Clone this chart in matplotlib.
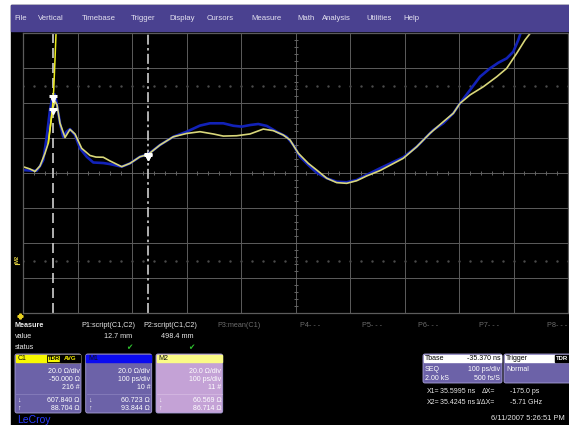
import matplotlib

matplotlib.use("Agg")
import matplotlib.pyplot as plt
import numpy as np
from matplotlib.patches import FancyBboxPatch, Rectangle

plt.rcParams["font.family"] = ["Liberation Sans", "DejaVu Sans"]

# Timebase 100 ps/div over 10 divisions, vertical 20 ohm/div over 8 divisions
T_LEFT = 35.370  # ns
T_DIV = 0.100
OHM_TOP = 130.0
OHM_DIV = 20.0

# M1 (blue) impedance profile, ns / ohm
m1_t = [35.3700, 35.3828, 35.3951, 35.4012, 35.4072, 35.4135, 35.4195, 35.4245,
        35.4278, 35.4318, 35.4379, 35.4439, 35.4502, 35.4562, 35.4654, 35.4746,
        35.4869, 35.4990, 35.5173, 35.5296, 35.5511, 35.5663, 35.5847, 35.5995,
        35.6214, 35.6458, 35.6704, 35.6948, 35.7131, 35.7375, 35.7559, 35.7713,
        35.7865, 35.8017, 35.8172, 35.8355, 35.8539, 35.8660, 35.8783, 35.8935,
        35.9089, 35.9273, 35.9456, 35.9639, 35.9823, 36.0006, 36.0251, 36.0678,
        36.0924, 36.1228, 36.1412, 36.1595, 36.1718, 36.1902, 36.2085, 36.2269,
        36.2421, 36.2575, 36.2696, 36.2788, 36.2832, 36.2874]
m1_ohm = [51.7, 51.4, 51.3, 54.0, 57.4, 70.6, 86.0, 93.844,
          95.0, 90.0, 78.4, 70.7, 73.6, 75.1, 71.7, 64.1,
          59.3, 56.0, 55.7, 55.1, 53.6, 55.5, 59.3, 60.723,
          66.0, 70.7, 73.6, 77.1, 78.4, 78.4, 77.0, 76.5,
          77.4, 78.0, 76.9, 73.6, 70.7, 66.0, 59.3, 54.6,
          50.2, 47.0, 45.0, 44.7, 46.0, 48.9, 52.7, 59.0,
          65.0, 74.6, 78.4, 84.1, 89.8, 97.4, 105.0, 109.8,
          113.0, 115.5, 119.3, 126.0, 130.2, 134.6]

# M2 (yellow) impedance profile, ns / ohm
m2_t = [35.3700, 35.3828, 35.3920, 35.4012, 35.4104, 35.4164, 35.4214, 35.4245,
        35.4287, 35.4324, 35.4379, 35.4471, 35.4562, 35.4654, 35.4777, 35.4929,
        35.5039, 35.5173, 35.5296, 35.5388, 35.5511, 35.5663, 35.5847, 35.5995,
        35.6214, 35.6458, 35.6704, 35.6948, 35.7192, 35.7375, 35.7621, 35.7865,
        35.8109, 35.8293, 35.8476, 35.8599, 35.8751, 35.8935, 35.9089, 35.9273,
        35.9456, 35.9639, 35.9823, 36.0006, 36.0251, 36.0678, 36.0924, 36.1168,
        36.1412, 36.1595, 36.1718, 36.1902, 36.2146, 36.2392, 36.2575, 36.2759,
        36.2911, 36.3016, 36.3058]
m2_ohm = [53.6, 52.3, 50.9, 54.0, 61.3, 67.1, 79.7, 86.714,
          91.1, 88.9, 78.4, 70.3, 74.9, 72.3, 64.1, 60.0,
          59.1, 59.0, 56.9, 55.5, 53.6, 55.5, 59.3, 60.569,
          66.0, 70.7, 72.6, 73.6, 72.3, 71.1, 71.3, 72.3,
          75.1, 74.2, 71.7, 68.9, 61.3, 55.5, 51.7, 47.0,
          44.5, 44.1, 45.6, 48.3, 51.4, 58.4, 65.0, 72.7,
          79.3, 84.1, 89.8, 94.6, 99.3, 105.0, 109.8, 118.4,
          126.0, 130.2, 134.6]

# C1 raw step, only its edge is on screen
c1_t = [35.4164, 35.4214, 35.4245, 35.4263, 35.4287, 35.4306, 35.4315]
c1_ohm = [67.1, 79.7, 88.704, 97.4, 114.6, 130.0, 137.4]

cursor_x1 = 35.5995
cursor_x2 = 35.4245

menu_items = ["File", "Vertical", "Timebase", "Trigger", "Display", "Cursors",
              "Measure", "Math", "Analysis", "Utilities", "Help"]
menu_x = [14, 38, 82, 131, 169, 207, 251, 297, 322, 366, 403]

param_labels = ["P1:script(C1,C2)", "P2:script(C1,C2)", "P3:mean(C1)",
                "P4- - -", "P5- - -", "P6- - -", "P7- - -", "P8- - -"]
param_x = [81, 143, 217, 300, 362, 418, 479, 547]
param_values = ["12.7 mm", "498.4 mm"]

channel_names = ["C1", "M1", "M2"]
channel_rows = [
    ["20.0 \u03a9/div", "-50.000 \u03a9", "216 #", "607.840 \u03a9", "88.704 \u03a9"],
    ["20.0 \u03a9/div", "100 ps/div", "10 #", "60.723 \u03a9", "93.844 \u03a9"],
    ["20.0 \u03a9/div", "100 ps/div", "11 #", "60.569 \u03a9", "86.714 \u03a9"],
]

MENU = "#4a4190"
PANEL = "#6c62a8"
PANEL_M2 = "#c4a2d6"
GRID = "#5c5c5c"
LABEL = "#e8e8e8"

W, H = 569, 425
fig = plt.figure(figsize=(W / 100, H / 100), dpi=100, facecolor="white")

# full-screen layer in pixel units for the instrument chrome
ui = fig.add_axes([0, 0, 1, 1])
ui.set_xlim(0, W)
ui.set_ylim(H, 0)
ui.axis("off")
ui.add_patch(Rectangle((11, 5), W - 11, H - 5, color="black"))
ui.add_patch(Rectangle((11, 5), W - 11, 25.5, color=MENU))
for name, x in zip(menu_items, menu_x):
    ui.text(x, 18, name, color="#e4e2f0", fontsize=5.6, va="center")

# graticule
gx0, gx1, gy0, gy1 = 23, 568, 33, 313
ax = fig.add_axes([gx0 / W, 1 - gy1 / H, (gx1 - gx0) / W, (gy1 - gy0) / H])
ax.set_facecolor("black")
t_right = T_LEFT + 10 * T_DIV
ohm_bottom = OHM_TOP - 8 * OHM_DIV
ax.set_xlim(T_LEFT, t_right)
ax.set_ylim(ohm_bottom, OHM_TOP)
ax.set_xticks([])
ax.set_yticks([])
for s in ax.spines.values():
    s.set_color(GRID)
    s.set_linewidth(0.9)
for k in range(1, 10):
    ax.axvline(T_LEFT + k * T_DIV, color=GRID, lw=0.7)
for k in range(1, 8):
    ax.axhline(OHM_TOP - k * OHM_DIV, color=GRID, lw=0.7)

t_mid = T_LEFT + 5 * T_DIV
ohm_mid = OHM_TOP - 4 * OHM_DIV
sub_t = np.linspace(T_LEFT, t_right, 51)
sub_ohm = np.linspace(ohm_bottom, OHM_TOP, 41)
ax.plot([t_mid] * len(sub_ohm), sub_ohm, ls="none", marker="_", ms=3, mew=0.7, color="#666666")
ax.plot(sub_t, [ohm_mid] * len(sub_t), ls="none", marker="|", ms=3, mew=0.7, color="#666666")
for level in (0.0, 100.0):
    ax.plot(sub_t, [level] * len(sub_t), ls="none", marker="s", ms=0.7, color="#4a4a4a")

# cursors
ax.axvline(cursor_x2, color="#cfcfcf", lw=1.2, dashes=(6, 3))
ax.axvline(cursor_x1, color="#cfcfcf", lw=1.2, dashes=(6, 2, 1.5, 2))

# traces
ax.plot(m1_t, m1_ohm, color="#1222b8", lw=1.9, solid_joinstyle="round")
ax.plot(m2_t, m2_ohm, color="#d9d77a", lw=1.2, solid_joinstyle="round")
ax.plot(c1_t, c1_ohm, color="#eeee20", lw=1.1)

# cursor readout markers on the two math traces
for t in (cursor_x2, cursor_x1):
    for v in (m1_ohm[m1_t.index(t)], m2_ohm[m2_t.index(t)]):
        ax.plot([t], [v], marker="_", ms=6, mew=2.2, color="white", zorder=5)
        ax.plot([t], [v - 2.0], marker="v", ms=3, color="white", zorder=5)

# trace label tab and M2 ground marker
ui.text(28, 38.3, "\u2193M1: Good board", color=LABEL, fontsize=5, va="center")
ui.plot([27, 89], [42.4, 42.4], color="#bdbdbd", lw=0.6)
m2_zero_px = gy0 + (OHM_TOP - 0.0) / (8 * OHM_DIV) * (gy1 - gy0)
ui.text(17.5, m2_zero_px - 2, "M2", color="#e0d040", fontsize=4.2, rotation=90,
        ha="center", va="center", fontweight="bold")
ui.plot([15.5, 19.5], [m2_zero_px + 3.5, m2_zero_px + 3.5], color="#e0d040", lw=0.8)
ui.plot([20.5], [316], marker="P", ms=3.5, color="#e8d020")

# measurement table
ui.text(15, 325.7, "Measure", color=LABEL, fontsize=5.2, fontweight="bold", va="center")
ui.text(15, 336.7, "value", color=LABEL, fontsize=5.2, va="center")
ui.text(15, 347.7, "status", color=LABEL, fontsize=5.2, va="center")
for i, (lab, x) in enumerate(zip(param_labels, param_x)):
    ui.text(x, 325.7, lab, color=LABEL if i < 2 else "#6c6c6c", fontsize=5.2, va="center")
for val, x in zip(param_values, (132, 194)):
    ui.text(x, 336.7, val, color=LABEL, fontsize=5.2, va="center", ha="right")
    ui.text(x, 347.7, "\u2714", color="#2ec02e", fontsize=5.5, va="center", ha="right",
            family="DejaVu Sans")


def panel(x0, x1, y0, y1, body, head, edge="#a79fd6"):
    ui.add_patch(FancyBboxPatch((x0, y0), x1 - x0, y1 - y0,
                                boxstyle="round,pad=0,rounding_size=2",
                                fc=body, ec=edge, lw=0.6))
    ui.add_patch(Rectangle((x0 + 0.6, y0 + 0.6), x1 - x0 - 1.2, 7.8, color=head))


# channel descriptor boxes
box_x = [(15, 81), (85.7, 151.7), (156, 222.7)]
heads = ["#f8f800", "#0a0af0", "#fbfb86"]
bodies = [PANEL, PANEL, PANEL_M2]
row_y = [371.7, 379.3, 387.3, 400, 408.3]
for name, (x0, x1), head, body, rows in zip(channel_names, box_x, heads, bodies, channel_rows):
    panel(x0, x1, 354, 413, body, head)
    ui.text(x0 + 2.5, 358.3, name, color="#101010", fontsize=5, va="center")
    ui.plot([x0 + 1, x1 - 1], [393.5, 393.5], color="#8d84c0" if body == PANEL else "#d8bce4", lw=0.5)
    for txt, y in zip(rows, row_y):
        ui.text(x1 - 1.5, y, txt, color="white", fontsize=5, va="center", ha="right")
    ui.text(x0 + 2.5, row_y[3], "\u2193", color="white", fontsize=5, va="center")
    ui.text(x0 + 2.5, row_y[4], "\u2191", color="white", fontsize=5, va="center")
# acquisition tags on the C1 header
ui.add_patch(Rectangle((47.5, 355), 12.5, 6.8, fc="#f8f800", ec="black", lw=0.6))
ui.text(53.7, 358.4, "TDR", color="black", fontsize=4.3, fontweight="bold", ha="center", va="center")
ui.add_patch(Rectangle((60, 355), 20.2, 6.8, color="black"))
ui.text(70.1, 358.4, "AVG", color="#f8f000", fontsize=4.3, fontweight="bold", ha="center", va="center")

# timebase and trigger boxes
panel(423, 502, 354, 383, PANEL, "white")
ui.text(425, 358.3, "Tbase", color="black", fontsize=5, va="center")
ui.text(500.5, 358.3, "-35.370 ns", color="black", fontsize=5, va="center", ha="right")
ui.text(425, 369.5, "SEQ", color="white", fontsize=5, va="center")
ui.text(500.5, 369.5, "100 ps/div", color="white", fontsize=5, va="center", ha="right")
ui.text(425, 378, "2.00 kS", color="white", fontsize=5, va="center")
ui.text(500.5, 378, "500 fs/S", color="white", fontsize=5, va="center", ha="right")
panel(504, 575, 354, 383, PANEL, "white")
ui.text(506, 358.3, "Trigger", color="black", fontsize=5, va="center")
ui.add_patch(Rectangle((555, 355), 14, 6.8, color="black"))
ui.text(562, 358.4, "TDR", color="white", fontsize=4.3, fontweight="bold", ha="center", va="center")
ui.text(506, 369.5, "Normal", color="white", fontsize=5, va="center")

# cursor readout
ui.text(427, 391.7, "X1=", color=LABEL, fontsize=5, va="center")
ui.text(440, 391.7, f"{cursor_x1:.4f} ns", color=LABEL, fontsize=5, va="center")
ui.text(495, 391.7, "\u0394X=", color=LABEL, fontsize=5, va="center", ha="right")
ui.text(510, 391.7, f"{(cursor_x2 - cursor_x1) * 1000:.1f} ps", color=LABEL, fontsize=5, va="center")
ui.text(427, 402.7, "X2=", color=LABEL, fontsize=5, va="center")
ui.text(440, 402.7, f"{cursor_x2:.4f} ns", color=LABEL, fontsize=5, va="center")
ui.text(495, 402.7, "1/\u0394X=", color=LABEL, fontsize=5, va="center", ha="right")
ui.text(510, 402.7, f"{1 / (cursor_x2 - cursor_x1):.2f} GHz", color=LABEL, fontsize=5, va="center")

ui.text(565, 419, "6/11/2007 5:26:51 PM", color=LABEL, fontsize=5.4, va="center", ha="right")
ui.text(17, 420, "LeCroy", color="#2a3cff", fontsize=7.5, va="center")

fig.savefig("out.png", dpi=100, facecolor=fig.get_facecolor())
